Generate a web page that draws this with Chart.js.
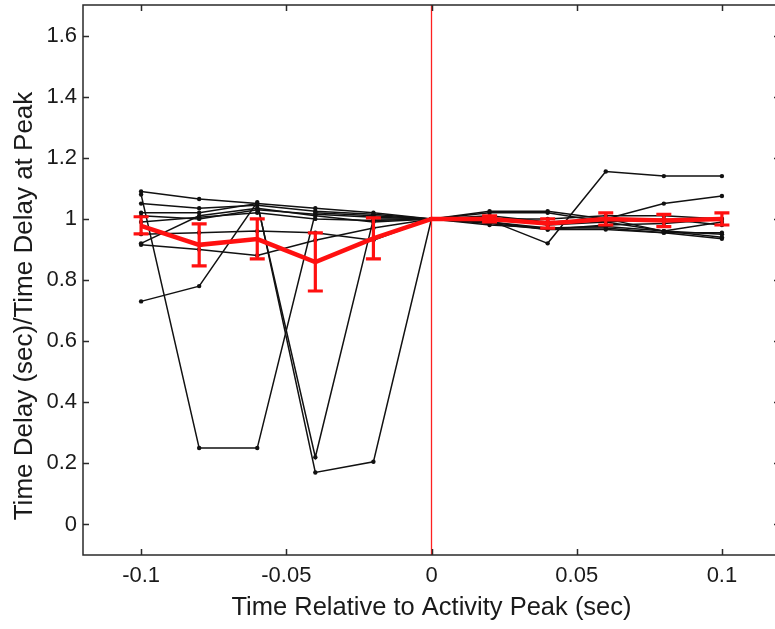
<!DOCTYPE html>
<html>
<head>
<meta charset="utf-8">
<script src="https://cdn.jsdelivr.net/npm/chart.js@4/dist/chart.umd.min.js"></script>
<style>
  html, body { margin: 0; padding: 0; background: #ffffff; overflow: hidden; }
  #wrap { width: 790px; height: 629px; }
</style>
</head>
<body>
<div id="wrap"><canvas id="c" width="790" height="629"></canvas></div>
<script>
// ---- Data ----
const timePoints = [-0.1, -0.08, -0.06, -0.04, -0.02, 0, 0.02, 0.04, 0.06, 0.08, 0.1];

const subject1  = [1.09, 1.065, 1.05, 1.035, 1.02, 1, 0.995, 0.92, 1.155, 1.14, 1.14];
const subject2  = [1.08, 0.25, 0.25, 1.02, 1.01, 1, 1.01, 0.99, 1.0, 1.05, 1.075];
const subject3  = [1.05, 1.035, 1.045, 1.025, 1.015, 1, 1.025, 1.025, 1.0, 0.96, 0.94];
const subject4  = [1.02, 1.02, 1.05, 0.22, 1.0, 1, 1.02, 1.02, 0.99, 0.96, 0.95];
const subject5  = [0.73, 0.78, 1.055, 0.17, 0.205, 1, 0.99, 0.97, 0.97, 0.955, 0.955];
const subject6  = [1.01, 1.0, 1.03, 1.015, 1.005, 1, 0.985, 0.965, 0.965, 0.955, 0.935];
const subject7  = [0.99, 1.005, 1.02, 1.0, 0.995, 1, 0.98, 0.97, 0.975, 0.96, 0.99];
const subject8  = [0.92, 1.01, 1.035, 1.01, 0.99, 1, 1.0, 1.0, 1.01, 1.01, 1.0];
const subject9  = [0.915, 0.90, 0.88, 0.93, 0.97, 1, 1.005, 0.98, 0.99, 1.0, 0.98];
const subject10 = [0.95, 0.955, 0.96, 0.955, 0.93, 1, 0.99, 0.965, 0.98, 0.985, 1.0];

const meanValues  = [0.977, 0.915, 0.934, 0.859, 0.936, 1, 1.0, 0.985, 1.0, 0.995, 1.0];
const errorLower  = [0.951, 0.846, 0.869, 0.764, 0.869, 1, 0.99, 0.97, 0.98, 0.975, 0.98];
const errorUpper  = [1.007, 0.984, 1.0, 0.954, 1.003, 1, 1.01, 1.0, 1.02, 1.015, 1.02];

const xTickValues = [-0.1, -0.05, 0, 0.05, 0.1];
const xTickLabels = ["-0.1", "-0.05", "0", "0.05", "0.1"];
const yTickValues = [0, 0.2, 0.4, 0.6, 0.8, 1.0, 1.2, 1.4, 1.6];
const yTickLabels = ["0", "0.2", "0.4", "0.6", "0.8", "1", "1.2", "1.4", "1.6"];
const peakLine = [-0.1, 1.7];

const xTitle = "Time Relative to Activity Peak (sec)";
const yTitle = "Time Delay (sec)/Time Delay at Peak";

// ---- Build datasets ----
const subjects = [subject1, subject2, subject3, subject4, subject5, subject6, subject7, subject8, subject9, subject10];
const toPoints = arr => arr.map((v, i) => ({ x: timePoints[i], y: v }));

const datasets = [];
datasets.push({
  label: 'mean',
  data: toPoints(meanValues),
  showLine: true,
  borderColor: '#ff1010',
  backgroundColor: '#ff1010',
  borderWidth: 4.5,
  pointRadius: 0,
  order: 0
});
datasets.push({
  label: 'peak',
  data: peakLine.map(v => ({ x: 0, y: v })),
  showLine: true,
  borderColor: '#ff2020',
  borderWidth: 1.3,
  pointRadius: 0,
  order: 1
});
subjects.forEach((s, k) => {
  datasets.push({
    label: 'subject ' + (k + 1),
    data: toPoints(s),
    showLine: true,
    borderColor: '#111111',
    backgroundColor: '#111111',
    borderWidth: 1.5,
    pointRadius: 2.2,
    pointBorderWidth: 0,
    order: 2
  });
});

const fontFamily = '"Liberation Sans", Arial, Helvetica, sans-serif';

const framePlugin = {
  id: 'frame',
  afterDatasetsDraw(chart) {
    const ctx = chart.ctx;
    const xs = chart.scales.x, ys = chart.scales.y;
    ctx.save();
    ctx.strokeStyle = '#ff1010';
    ctx.lineWidth = 3.2;
    const cap = 7.5;
    timePoints.forEach((t, i) => {
      if (errorUpper[i] === errorLower[i]) return;
      const px = xs.getPixelForValue(t);
      const lo = ys.getPixelForValue(errorLower[i]);
      const hi = ys.getPixelForValue(errorUpper[i]);
      ctx.beginPath();
      ctx.moveTo(px, lo); ctx.lineTo(px, hi);
      ctx.moveTo(px - cap, lo); ctx.lineTo(px + cap, lo);
      ctx.moveTo(px - cap, hi); ctx.lineTo(px + cap, hi);
      ctx.stroke();
    });
    ctx.restore();
  },
  afterDraw(chart) {
    const ctx = chart.ctx;
    const xs = chart.scales.x, ys = chart.scales.y;
    const a = chart.chartArea;
    ctx.save();
    ctx.strokeStyle = '#2a2a2a';
    ctx.lineWidth = 1.5;
    ctx.strokeRect(a.left, a.top, a.right - a.left, a.bottom - a.top);
    const tl = 6;
    ctx.beginPath();
    xTickValues.forEach(v => {
      const p = Math.round(xs.getPixelForValue(v)) + 0.5;
      ctx.moveTo(p, a.bottom); ctx.lineTo(p, a.bottom - tl);
      ctx.moveTo(p, a.top); ctx.lineTo(p, a.top + tl);
    });
    yTickValues.forEach(v => {
      const p = Math.round(ys.getPixelForValue(v)) + 0.5;
      ctx.moveTo(a.left, p); ctx.lineTo(a.left + tl, p);
      ctx.moveTo(a.right, p); ctx.lineTo(a.right - tl, p);
    });
    ctx.stroke();
    // y-axis title (centred on figure height like the reference)
    ctx.translate(25, 306);
    ctx.rotate(-Math.PI / 2);
    ctx.fillStyle = '#1a1a1a';
    ctx.font = '26px ' + fontFamily;
    ctx.textAlign = 'center';
    ctx.textBaseline = 'middle';
    ctx.fillText(yTitle, 0, 0);
    ctx.restore();
  }
};

new Chart(document.getElementById('c'), {
  type: 'scatter',
  data: { datasets },
  options: {
    responsive: false,
    animation: false,
    events: [],
    layout: { padding: { top: 5, right: 10, left: 0, bottom: 0 } },
    plugins: { legend: { display: false }, tooltip: { enabled: false } },
    scales: {
      x: {
        type: 'linear',
        min: -0.12, max: 0.12,
        afterFit(scale) { scale.height = 74; scale.paddingLeft = 0; scale.paddingRight = 0; },
        afterBuildTicks(scale) { scale.ticks = xTickValues.map(v => ({ value: v })); },
        grid: { display: false, drawTicks: false },
        border: { display: false },
        ticks: {
          padding: 8,
          color: '#1a1a1a',
          font: { family: fontFamily, size: 22 },
          maxRotation: 0,
          callback: (v) => { const i = xTickValues.indexOf(v); return i >= 0 ? xTickLabels[i] : ''; }
        },
        title: {
          display: true, text: xTitle, color: '#1a1a1a',
          font: { family: fontFamily, size: 25.5 },
          padding: { top: 0, bottom: 6 }
        }
      },
      y: {
        type: 'linear',
        min: -0.1, max: 1.7,
        afterFit(scale) { scale.width = 83; scale.paddingTop = 0; scale.paddingBottom = 0; },
        afterBuildTicks(scale) { scale.ticks = yTickValues.map(v => ({ value: v })); },
        grid: { display: false, drawTicks: false },
        border: { display: false },
        ticks: {
          padding: 6,
          color: '#1a1a1a',
          font: { family: fontFamily, size: 22 },
          callback: (v) => { const i = yTickValues.findIndex(t => Math.abs(t - v) < 1e-9); return i >= 0 ? yTickLabels[i] : ''; }
        },
        title: { display: false }
      }
    }
  },
  plugins: [framePlugin]
});
</script>
</body>
</html>
